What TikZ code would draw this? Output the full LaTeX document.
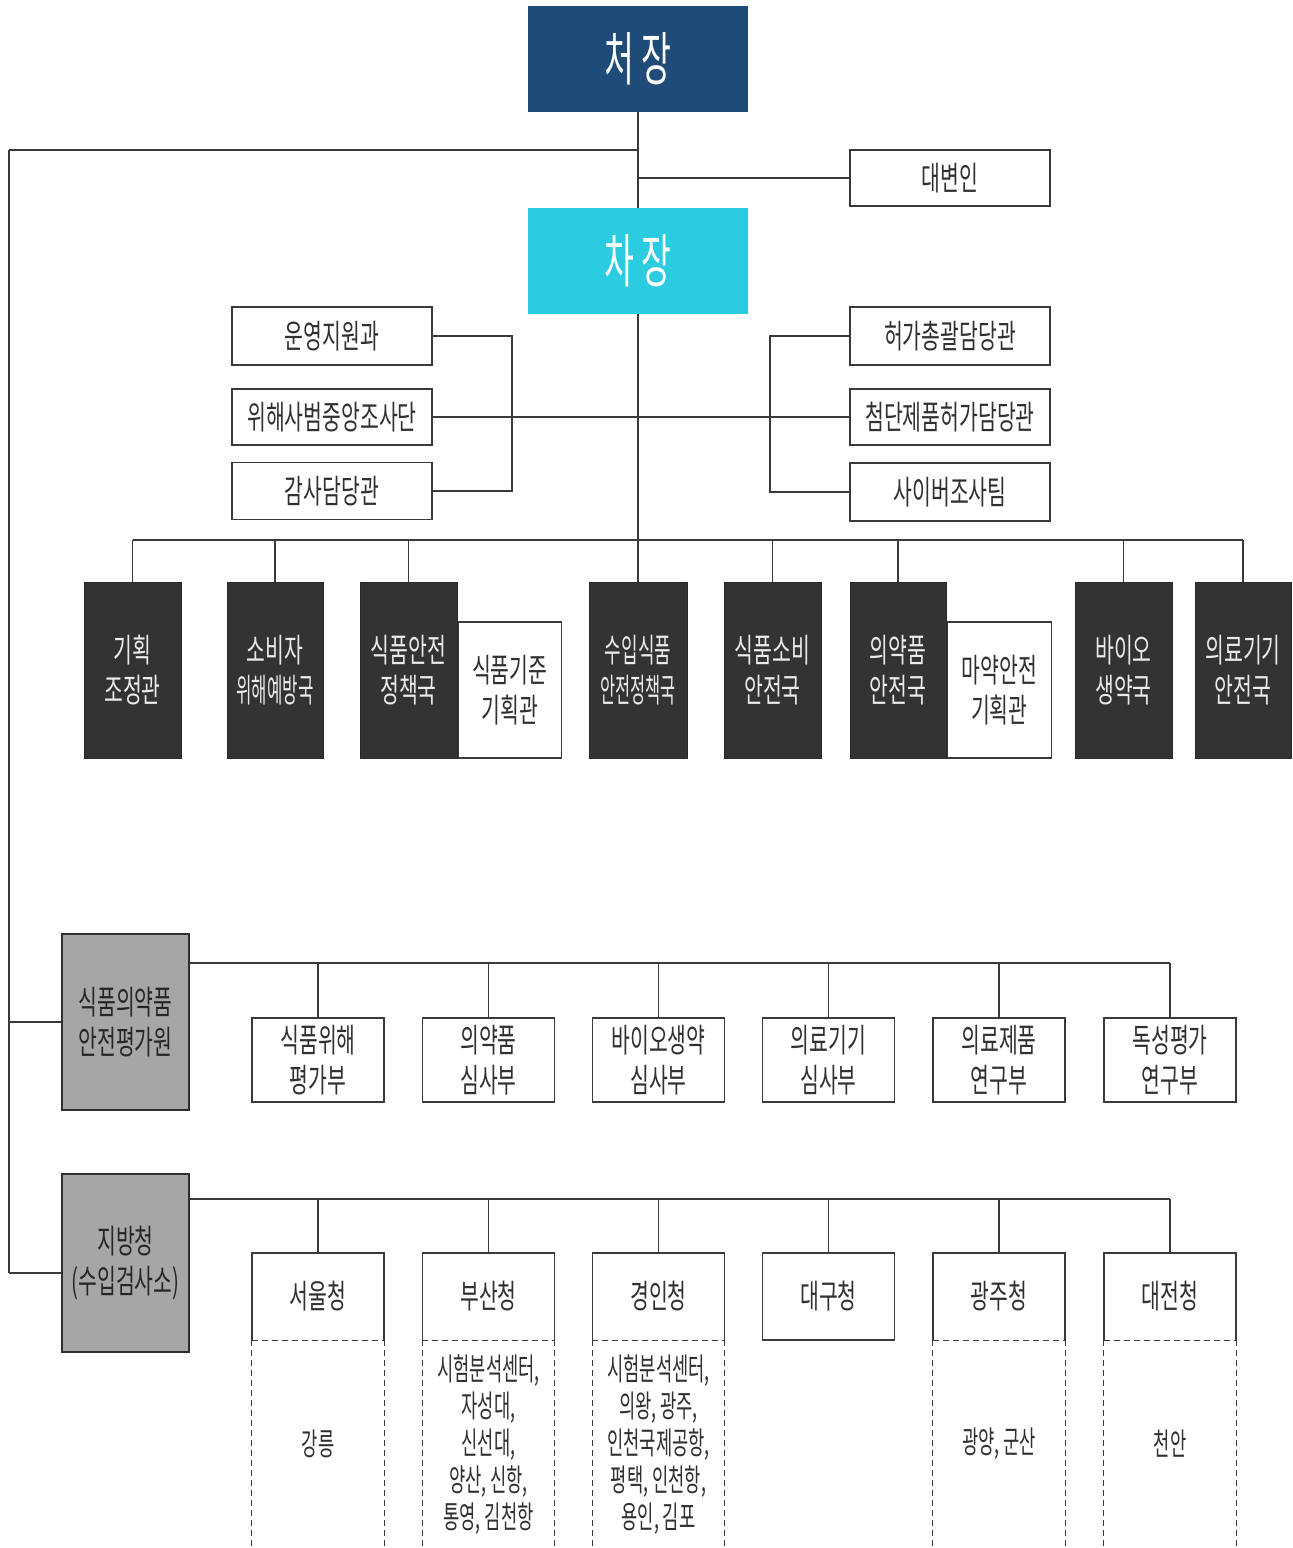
\documentclass[tikz,border=0pt]{standalone}
\usepackage{fontspec}
\usepackage{graphicx}
\newfontfamily\kr[FakeStretch=0.62]{Noto Sans CJK KR}
\newfontfamily\krn[FakeStretch=0.56]{Noto Sans CJK KR}
\newfontfamily\krs[FakeStretch=0.57]{Noto Sans CJK KR}
\definecolor{navy}{HTML}{1E4B77}
\definecolor{cyanbox}{HTML}{2BCCDF}
\definecolor{blk}{HTML}{333333}
\definecolor{grayf}{HTML}{A6A6A6}
\definecolor{lin}{HTML}{3A3A3A}
\definecolor{txt}{HTML}{303030}
\begin{document}
\begin{tikzpicture}[x=1pt,y=-1pt,
  ln/.style={draw=lin, line width=1.3pt},
  busln/.style={draw=lin, line width=2pt},
  dsh/.style={draw=lin, line width=1.2pt, dash pattern=on 6pt off 4pt},
  topbox/.style={inner sep=0pt, minimum width=220pt, minimum height=106pt, text=white, font=\krn\fontsize{58}{64}\selectfont},
  wbox/.style={draw=lin, line width=1.5pt, fill=white, text=txt, inner sep=0pt, align=center, font=\kr\fontsize{33}{40}\selectfont},
  staff/.style={wbox, minimum width=200pt},
  bbox/.style={fill=blk, draw=blk!80!black, line width=1pt, text=white!92!black, inner sep=0pt, align=center, minimum height=176pt, font=\kr\fontsize{33}{40}\selectfont},
  attbox/.style={wbox, minimum height=136pt, anchor=south west},
  gbox/.style={fill=grayf, draw=lin!80!black, line width=1.5pt, text=black!85, inner sep=0pt, align=center, minimum width=127pt, font=\kr\fontsize{33}{40}\selectfont},
  sub/.style={wbox, minimum width=132pt, minimum height=84pt},
  reg/.style={inner sep=0pt, minimum width=132pt, minimum height=87pt, text=txt, align=center, font=\kr\fontsize{33}{40}\selectfont},
  loc/.style={inner sep=0pt, text=txt, align=center, font=\krs\fontsize{31}{37}\selectfont}
]
\useasboundingbox (0,0) rectangle (1293,1548);
\clip (0,0) rectangle (1293,1548);
\fill[white] (0,0) rectangle (1293,1548);

% top
\node[topbox, fill=navy] (cj) at (638,59) {처 장};
\node[topbox, fill=cyanbox] (chj) at (638,261) {차 장};
\node[staff, minimum height=56pt] (dbi) at (950,178) {대변인};

% staff
\node[staff, minimum height=58pt] (s1) at (332,336) {운영지원과};
\node[staff, minimum height=56pt] (s2) at (332,417) {위해사범중앙조사단};
\node[staff, minimum height=57pt] (s3) at (332,491) {감사담당관};
\node[staff, minimum height=58pt] (r1) at (950,336) {허가총괄담당관};
\node[staff, minimum height=56pt] (r2) at (950,417) {첨단제품허가담당관};
\node[staff, minimum height=58pt] (r3) at (950,492) {사이버조사팀};

% bureaus
\node[bbox, minimum width=97pt] (b1) at (132.5,670) {기획\\조정관};
\node[bbox, minimum width=96pt] (b2) at (275,670) {소비자\\\scalebox{0.82}[1]{위해예방국}};
\node[bbox, minimum width=97pt] (b3) at (408.5,670) {식품안전\\정책국};
\node[attbox, minimum width=103pt] (b3w) at (b3.south east) {식품기준\\기획관};
\node[bbox, minimum width=98pt] (b4) at (638,670) {\scalebox{0.88}[1]{수입식품}\\\scalebox{0.8}[1]{안전정책국}};
\node[bbox, minimum width=97pt] (b5) at (772.5,670) {식품소비\\안전국};
\node[bbox, minimum width=96pt] (b6) at (898,670) {의약품\\안전국};
\node[attbox, minimum width=104pt] (b6w) at (b6.south east) {마약안전\\기획관};
\node[bbox, minimum width=97pt] (b7) at (1123.5,670) {바이오\\생약국};
\node[bbox, minimum width=96pt] (b8) at (1243,670) {의료기기\\안전국};

% evaluation institute
\node[gbox, minimum height=176pt] (pg) at (125.5,1022) {식품의약품\\안전평가원};
\node[sub] (p1) at (318,1060) {식품위해\\평가부};
\node[sub] (p2) at (488.5,1060) {의약품\\심사부};
\node[sub] (p3) at (658.5,1060) {바이오생약\\심사부};
\node[sub] (p4) at (828.5,1060) {의료기기\\심사부};
\node[sub] (p5) at (999,1060) {의료제품\\연구부};
\node[sub] (p6) at (1170,1060) {독성평가\\연구부};

% regional offices
\node[gbox, minimum height=178pt] (jb) at (125.5,1263) {지방청\\(수입검사소)};
\node[reg] (j1) at (318,1296.5) {서울청};
\node[reg] (j2) at (488.5,1296.5) {부산청};
\node[reg] (j3) at (658.5,1296.5) {경인청};
\node[reg, draw=lin, line width=1.5pt] (j4) at (828.5,1296.5) {대구청};
\node[reg] (j5) at (999,1296.5) {광주청};
\node[reg] (j6) at (1170,1296.5) {대전청};

\foreach \n in {j1,j2,j3,j5,j6}{
  \draw[ln, line width=1.5pt] (\n.south west) -- (\n.north west) -- (\n.north east) -- (\n.south east);
  \draw[dsh] (\n.south west) -- (\n.south east);
  \draw[dsh] (\n.south west) -- ++(0,240);
  \draw[dsh] (\n.south east) -- ++(0,240);
}
\node[loc] (l1) at (318,1444) {강릉};
\node[loc] (l2) at (488.5,1444) {시험분석센터,\\자성대,\\신선대,\\양산, 신항,\\통영, 김천항};
\node[loc] (l3) at (658.5,1444) {시험분석센터,\\의왕, 광주,\\인천국제공항,\\평택, 인천항,\\용인, 김포};
\node[loc] (l5) at (999,1444) {광양, 군산};
\node[loc] (l6) at (1170,1444) {천안};

% connectors
\coordinate (jL) at (638,150);
\coordinate (cTL) at (9,150);
\coordinate (cBL) at (9,1273);
\coordinate (busY) at (0,540);
\coordinate (brL) at (512,0);
\coordinate (brR) at (770,0);

\draw[ln] (cj.south) -- (chj.north);
\draw[busln] (jL) -- (cTL);
\draw[ln] (cTL) -- (cBL);
\draw[busln] (cBL) -- (cBL -| jb.west);
\draw[busln] (cTL |- pg.west) -- (pg.west);
\draw[busln] (cj.south |- dbi.west) -- (dbi.west);

\draw[ln] (chj.south) -- (chj.south |- busY);
\draw[ln] (s1.east) -- (s1.east -| brL) -- (s3.east -| brL) -- (s3.east);
\draw[busln] (s2.east) -- (r2.west);
\draw[ln] (r1.west) -- (r1.west -| brR) -- (r3.west -| brR) -- (r3.west);

\draw[busln] (b1.north |- busY) -- (b8.north |- busY);
\foreach \n in {b1,b2,b3,b4,b5,b6,b7,b8}{
  \draw[ln] (\n.north |- busY) -- (\n.north);
}

\coordinate (pY) at (0,963);
\draw[busln] (pg.east |- pY) -- (p6.north |- pY);
\foreach \n in {p1,p2,p3,p4,p5,p6}{
  \draw[ln] (\n.north |- pY) -- (\n.north);
}

\coordinate (jY) at (0,1199);
\draw[busln] (jb.east |- jY) -- (j6.north |- jY);
\foreach \n in {j1,j2,j3,j4,j5,j6}{
  \draw[ln] (\n.north |- jY) -- (\n.north);
}
\end{tikzpicture}
\end{document}
